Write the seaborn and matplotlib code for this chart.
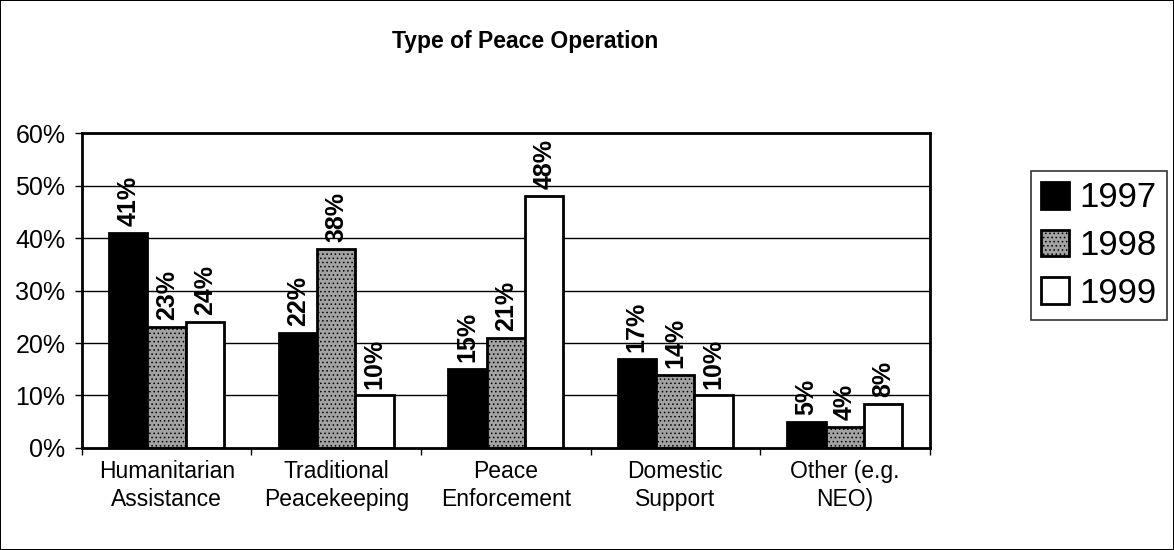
import pandas as pd
import matplotlib
matplotlib.use("Agg")
import matplotlib.pyplot as plt
import seaborn as sns
from matplotlib.patches import Patch

# Chart data
categories = ["Humanitarian\nAssistance", "Traditional\nPeacekeeping", "Peace\nEnforcement",
              "Domestic\nSupport", "Other (e.g.\nNEO)"]
years = ["1997", "1998", "1999"]
vals_1997 = [41, 22, 15, 17, 5]
vals_1998 = [23, 38, 21, 14, 4]
vals_1999 = [24, 10, 48, 10, 8.4]

rows = []
for yr, vals in zip(years, [vals_1997, vals_1998, vals_1999]):
    for cat, v in zip(categories, vals):
        rows.append({"category": cat, "year": yr, "value": v})
df = pd.DataFrame(rows)

sns.set_style("white")
plt.rcParams["font.family"] = ["Liberation Sans", "DejaVu Sans"]
plt.rcParams["text.color"] = "black"
plt.rcParams["xtick.color"] = "black"
plt.rcParams["ytick.color"] = "black"
plt.rcParams["hatch.color"] = "#505050"
plt.rcParams["hatch.linewidth"] = 0.6

fig = plt.figure(figsize=(11.74, 5.5), dpi=100)
fig.patch.set_edgecolor("black")
fig.patch.set_linewidth(1.2)
ax = fig.add_axes([0.0698, 0.1855, 0.722, 0.5725])

colors = {"1997": "black", "1998": "#a2a2a2", "1999": "white"}
sns.barplot(data=df, x="category", y="value", hue="year", palette=colors,
            order=categories, hue_order=years, width=0.68, edgecolor="black",
            linewidth=2, legend=False, ax=ax)

# dithered look on the 1998 bars
for bar in ax.containers[1]:
    bar.set_hatch("....")

for cont in ax.containers:
    labels = [f"{round(b.get_height()):.0f}%" for b in cont]
    ax.bar_label(cont, labels=labels, rotation=90, padding=5,
                 fontsize=18, fontweight="bold")

ax.set_ylim(0, 60)
ax.set_xlim(-0.5, 4.5)
ax.set_yticks(range(0, 61, 10))
ax.set_yticklabels([f"{t}%" for t in range(0, 61, 10)], fontsize=18)
ax.yaxis.grid(True, color="black", linewidth=1)
ax.set_axisbelow(True)
ax.tick_params(axis="y", which="major", left=True, length=5, width=1, direction="out", pad=7)

ax.set_xticks(range(len(categories)))
ax.set_xticklabels(categories, fontsize=16.5, linespacing=1.25)
ax.tick_params(axis="x", which="major", length=0, pad=9)
ax.set_xticks([i - 0.5 for i in range(len(categories) + 1)], minor=True)
ax.tick_params(axis="x", which="minor", bottom=True, length=5, width=1, direction="out")

ax.set_xlabel("")
ax.set_ylabel("")
for sp in ax.spines.values():
    sp.set_visible(True)
    sp.set_color("black")
    sp.set_linewidth(2)

fig.text(0.447, 0.925, "Type of Peace Operation", ha="center", va="center",
         fontsize=16.5, fontweight="bold")

handles = [Patch(facecolor=colors[y], edgecolor="black", linewidth=2,
                 hatch="...." if y == "1998" else None, label=y) for y in years]
leg = fig.legend(handles=handles, loc="upper left", bbox_to_anchor=(0.878, 0.689),
                 fontsize=25, frameon=True, fancybox=False, handlelength=0.8,
                 handleheight=0.8, handletextpad=0.3, borderpad=0.3,
                 labelspacing=0.42, borderaxespad=0)
leg.get_frame().set_edgecolor("black")
leg.get_frame().set_linewidth(1.2)

fig.savefig("out.png", dpi=100)
